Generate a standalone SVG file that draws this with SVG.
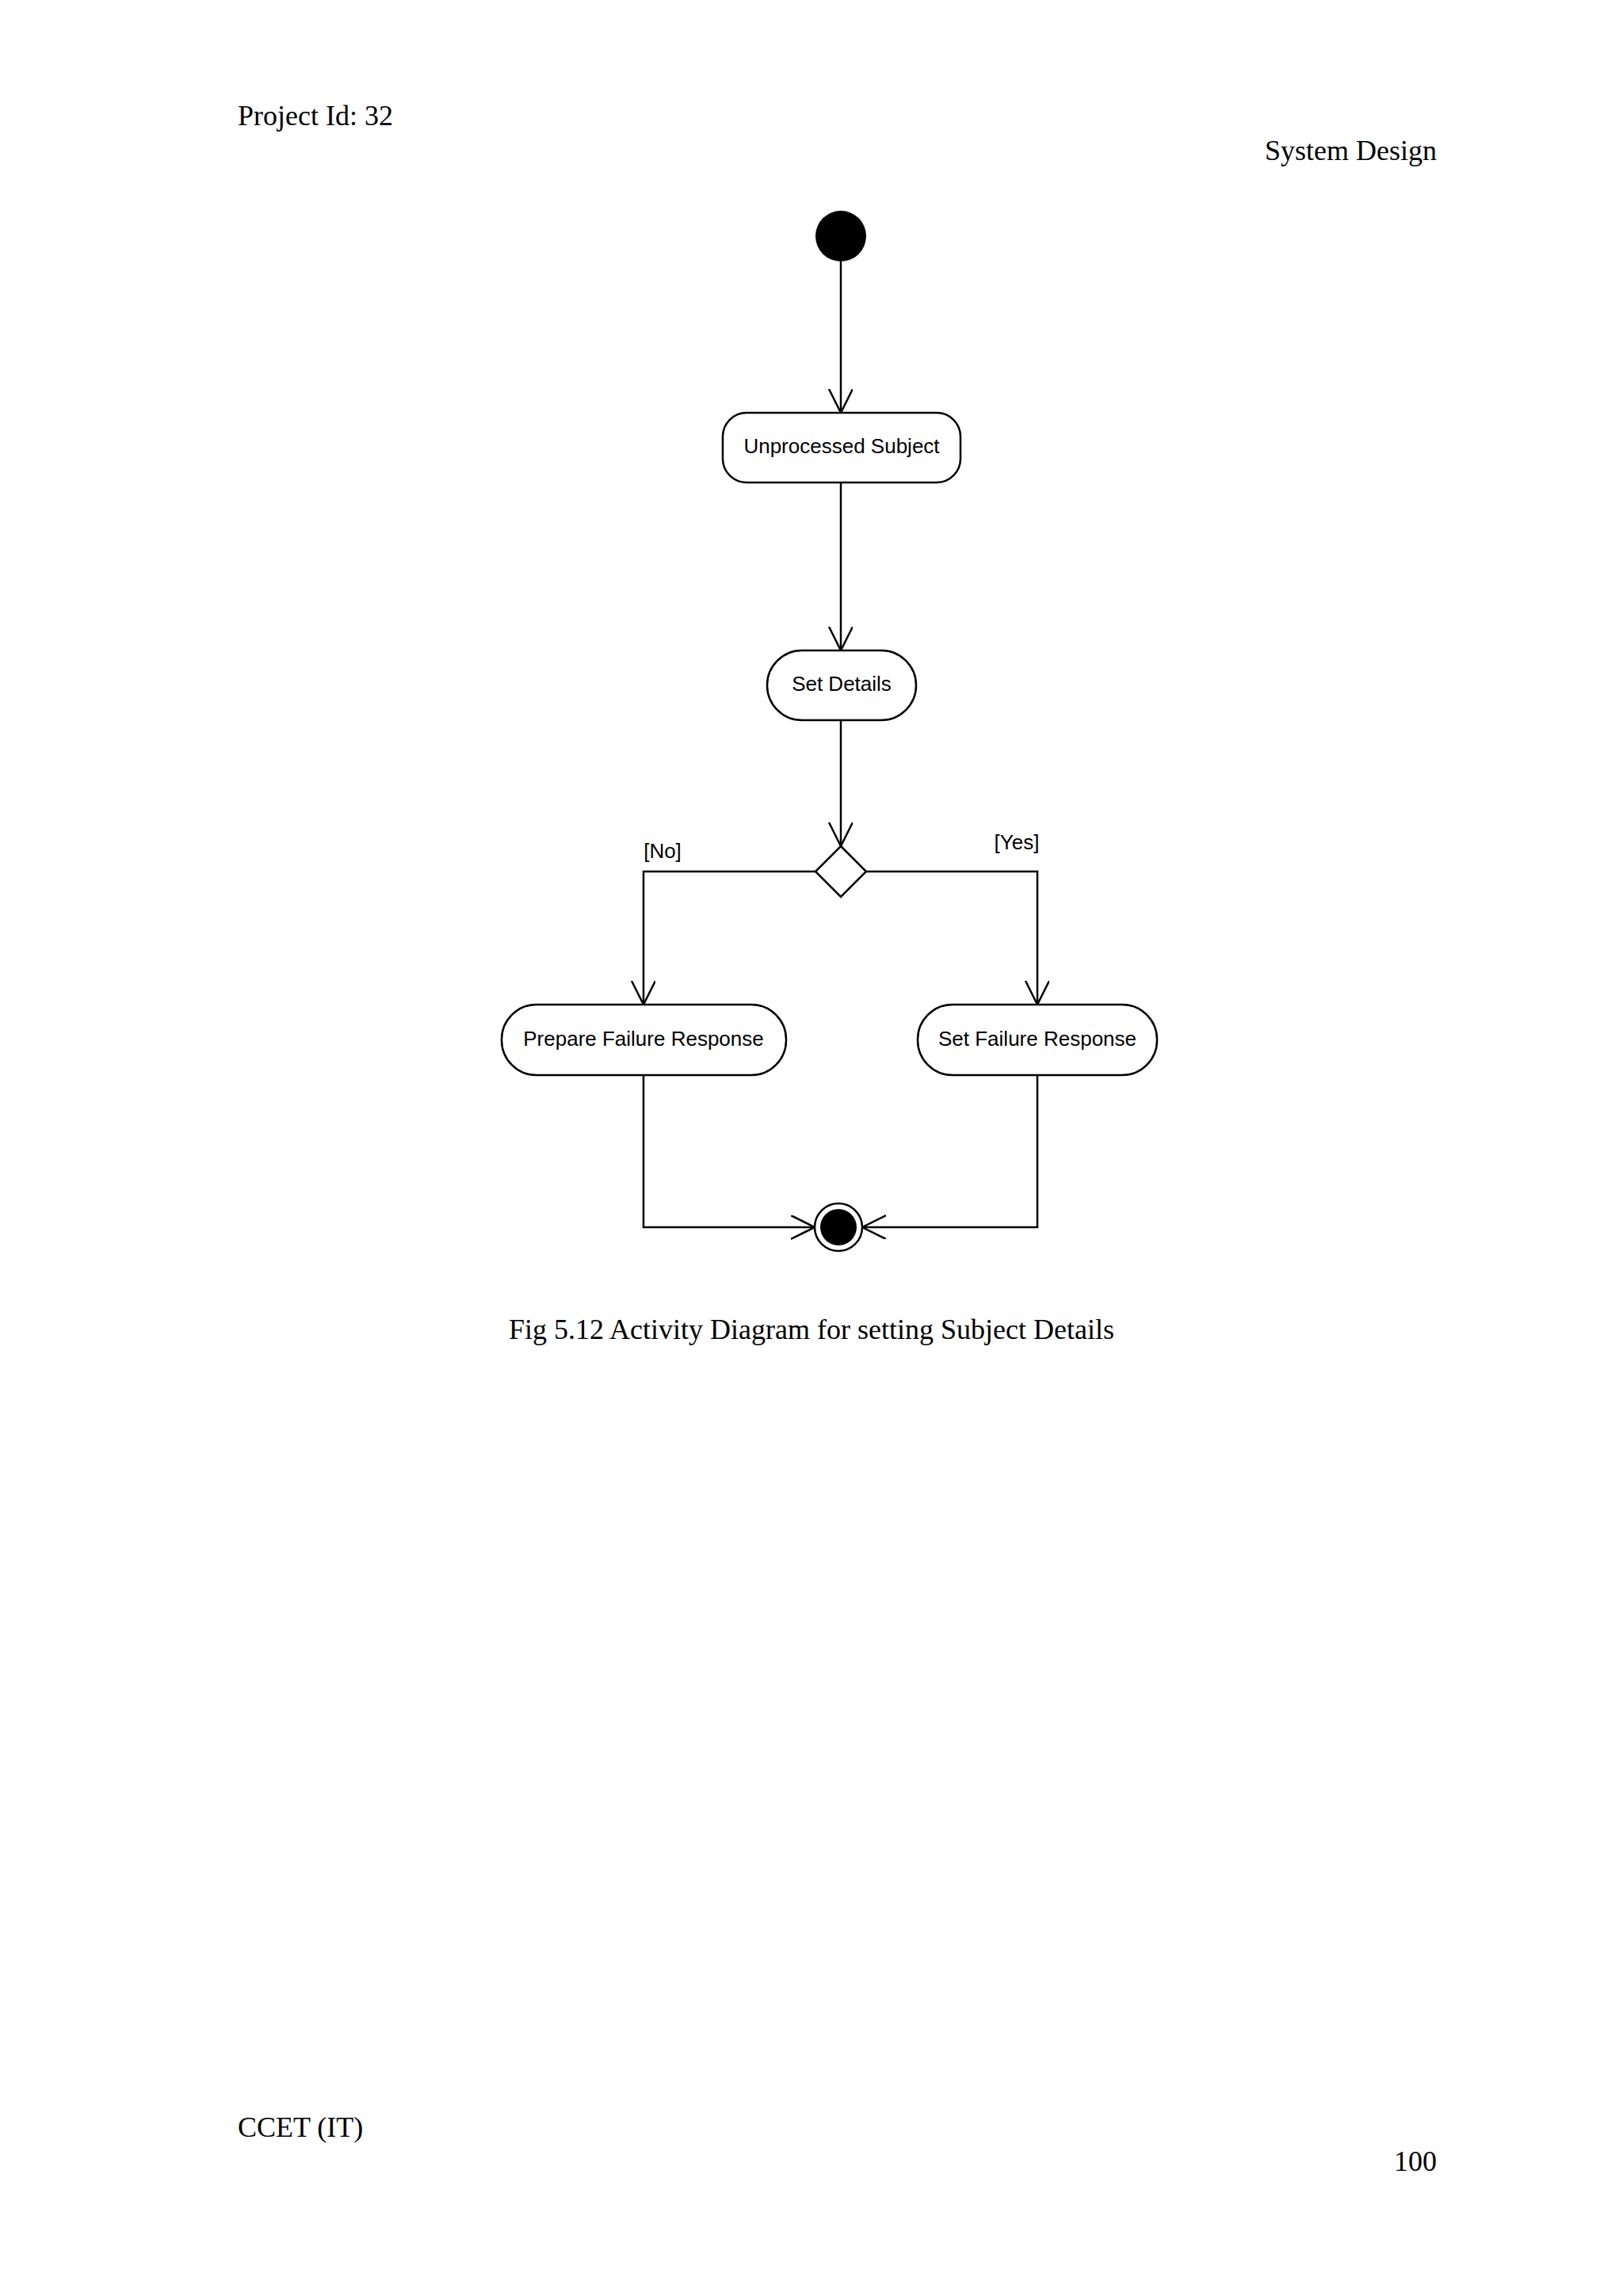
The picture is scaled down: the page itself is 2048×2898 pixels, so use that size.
<svg xmlns="http://www.w3.org/2000/svg" width="2048" height="2898" viewBox="0 0 2048 2898">
<style>
.pg{font-family:"Liberation Serif",serif;font-size:36px;fill:#000}
.nt{font-family:"Liberation Sans",Arial,sans-serif;font-size:26px;fill:#000;text-anchor:middle}
.box{fill:#fff;stroke:#000;stroke-width:2.5}
.ln{fill:none;stroke:#000;stroke-width:2.5}
</style>
<defs>
<marker id="ah" markerWidth="40" markerHeight="40" refX="30" refY="15" orient="auto" markerUnits="userSpaceOnUse">
<path d="M0,0 L30,15 L0,30" fill="none" stroke="#000" stroke-width="2.5"/>
</marker>
</defs>
<rect width="2048" height="2898" fill="#fff"/>
<text class="pg" x="300" y="158">Project Id: 32</text>
<text class="pg" x="1813" y="202" text-anchor="end">System Design</text>
<text class="pg" x="642" y="1690">Fig 5.12   Activity Diagram for setting Subject Details</text>
<text class="pg" x="300" y="2697">CCET (IT)</text>
<text class="pg" x="1813" y="2740" text-anchor="end">100</text>
<g id="connectors">
<line class="ln" x1="1061" y1="330" x2="1061" y2="521" marker-end="url(#ah)"/>
<line class="ln" x1="1061" y1="609" x2="1061" y2="821" marker-end="url(#ah)"/>
<line class="ln" x1="1061" y1="909" x2="1061" y2="1068" marker-end="url(#ah)"/>
<polyline class="ln" points="1029,1100 812,1100 812,1268" marker-end="url(#ah)"/>
<polyline class="ln" points="1093,1100 1309,1100 1309,1268" marker-end="url(#ah)"/>
<polyline class="ln" points="812,1357 812,1549 1028,1549" marker-end="url(#ah)"/>
<polyline class="ln" points="1309,1357 1309,1549 1088,1549" marker-end="url(#ah)"/>
<text class="nt" x="836" y="1083">[No]</text>
<text class="nt" x="1283" y="1072">[Yes]</text>
</g>
<g id="start"><circle cx="1061" cy="298" r="32" fill="#000"/></g>
<g id="unprocessed"><rect class="box" x="912" y="521" width="300" height="88" rx="30"/><text class="nt" x="1062" y="572">Unprocessed Subject</text></g>
<g id="setdetails"><rect class="box" x="968" y="821" width="188" height="88" rx="44"/><text class="nt" x="1062" y="872">Set Details</text></g>
<g id="decision"><polygon class="box" points="1061,1068 1093,1100 1061,1132 1029,1100"/></g>
<g id="prepare"><rect class="box" x="633" y="1268" width="359" height="89" rx="44"/><text class="nt" x="812" y="1320">Prepare Failure Response</text></g>
<g id="setfailure"><rect class="box" x="1158" y="1268" width="302" height="89" rx="44"/><text class="nt" x="1309" y="1320">Set Failure Response</text></g>
<g id="end"><circle cx="1058" cy="1549" r="30" fill="#fff" stroke="#000" stroke-width="2.5"/><circle cx="1058" cy="1549" r="23" fill="#000"/></g>
</svg>
